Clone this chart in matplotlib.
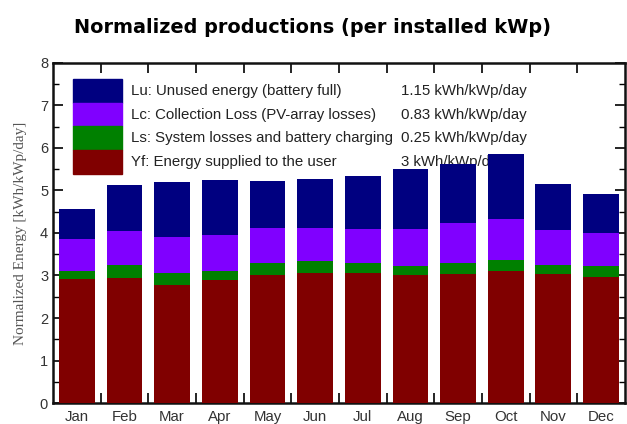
import matplotlib.pyplot as plt
from matplotlib.patches import Rectangle
import numpy as np

# valores (kWh/kWp/dia, acumulados)
months = ["Jan", "Feb", "Mar", "Apr", "May", "Jun",
          "Jul", "Aug", "Sep", "Oct", "Nov", "Dec"]
yf = [2.91, 2.95, 2.78, 2.89, 3.01, 3.07, 3.07, 3.00, 3.03, 3.10, 3.04, 2.97]
ls = [0.20, 0.30, 0.27, 0.22, 0.28, 0.26, 0.22, 0.22, 0.26, 0.26, 0.21, 0.26]
lc = [0.74, 0.80, 0.85, 0.84, 0.82, 0.78, 0.80, 0.87, 0.94, 0.98, 0.82, 0.78]
lu = [0.72, 1.09, 1.30, 1.30, 1.12, 1.15, 1.24, 1.42, 1.39, 1.51, 1.08, 0.90]

legend_labels = ["Lu: Unused energy (battery full)",
                 "Lc: Collection Loss (PV-array losses)",
                 "Ls: System losses and battery charging",
                 "Yf: Energy supplied to the user"]
legend_values = ["1.15 kWh/kWp/day", "0.83 kWh/kWp/day",
                 "0.25 kWh/kWp/day", "3 kWh/kWp/day"]

c_yf, c_ls, c_lc, c_lu = "#800000", "#008000", "#8000ff", "#000080"

plt.rcParams["font.family"] = ["Liberation Sans", "DejaVu Sans"]

fig = plt.figure(figsize=(6.27, 4.24), dpi=100)
ax = fig.add_axes([0.0845, 0.0495, 0.912, 0.802])

x = np.arange(len(months))
w = 0.75
yf_a = np.array(yf)
ls_a = np.array(ls)
lc_a = np.array(lc)
lu_a = np.array(lu)
ax.bar(x, yf_a, w, color=c_yf, zorder=3)
ax.bar(x, ls_a, w, bottom=yf_a, color=c_ls, zorder=3)
ax.bar(x, lc_a, w, bottom=yf_a + ls_a, color=c_lc, zorder=3)
ax.bar(x, lu_a, w, bottom=yf_a + ls_a + lc_a, color=c_lu, zorder=3)

ax.set_xlim(-0.5, 11.5)
ax.set_ylim(0, 8)

# leyenda hecha a mano
colors = [c_lu, c_lc, c_ls, c_yf]
band_top = 0.953
band_h = 0.0699
for i, c in enumerate(colors):
    ax.add_patch(Rectangle((0.035, band_top - (i + 1) * band_h), 0.0856, band_h,
                           transform=ax.transAxes, color=c, zorder=2))
    ty = band_top - (i + 0.5) * band_h
    ax.text(0.1364, ty, legend_labels[i], transform=ax.transAxes,
            fontsize=10.8, color="#222222", va="center", zorder=1)
    ax.text(0.609, ty, legend_values[i], transform=ax.transAxes,
            fontsize=10.8, color="#222222", va="center", zorder=1)

ax.set_xticks(x)
ax.set_xticklabels(months, fontsize=10.8, color="#333333")
ax.set_xticks(np.arange(-0.5, 12, 1)[1:-1], minor=True)
ax.set_yticks(range(9))
ax.set_yticks(np.arange(0.5, 8, 1), minor=True)
ax.tick_params(axis="y", which="major", direction="in", length=7, width=1.2,
               right=True, labelsize=10.5, labelcolor="#333333")
ax.tick_params(axis="y", which="minor", direction="in", length=4, width=1.0,
               right=True)
ax.tick_params(axis="x", which="major", length=0, pad=5)
ax.tick_params(axis="x", which="minor", direction="in", length=7, width=1.2,
               top=True)
for s in ax.spines.values():
    s.set_linewidth(1.8)
    s.set_color("#111111")

ax.set_ylabel("Normalized Energy [kWh/kWp/day]", family="Liberation Serif",
              fontsize=11, color="#555555", labelpad=9)
fig.text(0.499, 0.936, "Normalized productions (per installed kWp)",
         ha="center", va="center", fontsize=13.9, fontweight="bold",
         family="DejaVu Sans")

fig.savefig("out.png", dpi=100)
